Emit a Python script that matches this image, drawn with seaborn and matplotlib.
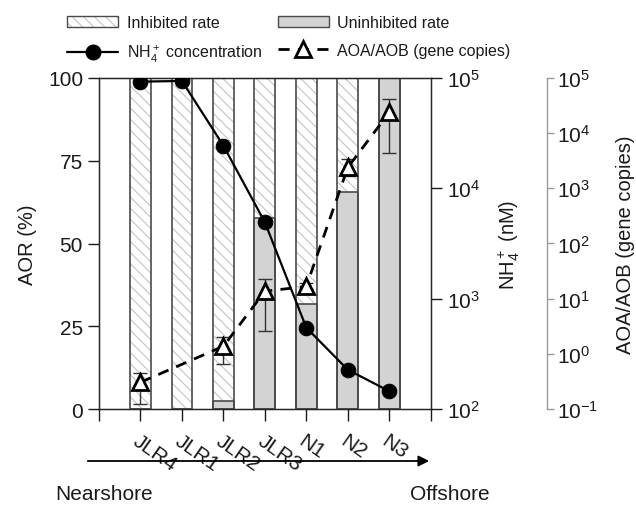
import numpy as np
import pandas as pd
import matplotlib
matplotlib.use("Agg")
import matplotlib.pyplot as plt
import matplotlib.transforms as mtransforms
import seaborn as sns
from matplotlib.patches import Patch, FancyArrowPatch
from matplotlib.lines import Line2D
from matplotlib.legend_handler import HandlerTuple
from matplotlib.ticker import NullLocator, FixedLocator

# Data
stations = ["JLR4", "JLR1", "JLR2", "JLR3", "N1", "N2", "N3"]
inhibited_rate = [100, 100, 100, 100, 100, 100, 100]      # AOR (%) top of stacked bar
uninhibited_rate = [0, 0, 2.3, 57.8, 31.7, 65.5, 100]     # AOR (%)
nh4_nM = [92700, 94000, 24400, 4930, 546, 227, 145]
aoa_aob = [0.305, np.nan, 1.37, 13.6, 16.7, 2390, 23700]
aoa_aob_low = [0.123, np.nan, 0.645, 2.56, 14.8, 1660, 4350]
aoa_aob_high = [0.444, np.nan, 1.99, 22.6, 19.0, 3380, 41300]

sns.set_style("ticks")
plt.rcParams["font.family"] = ["Liberation Sans", "DejaVu Sans"]
plt.rcParams["mathtext.fontset"] = "custom"
plt.rcParams["mathtext.rm"] = "Liberation Sans"
plt.rcParams["mathtext.it"] = "Liberation Sans:italic"
plt.rcParams["mathtext.bf"] = "Liberation Sans:bold"
plt.rcParams["hatch.linewidth"] = 0.8
plt.rcParams["text.color"] = "#1a1a1a"
plt.rcParams["axes.labelcolor"] = "#1a1a1a"
plt.rcParams["xtick.color"] = "#1a1a1a"
plt.rcParams["ytick.color"] = "#1a1a1a"

FS_TICK = 15
FS_LAB = 14.5
FS_LEG = 11.5
HATCH_C = "#c4c4c4"
EDGE_C = "#4a4a4a"
GRAY = "#d3d3d3"

pos = np.arange(1, len(stations) + 1)
df = pd.DataFrame({
    "pos": pos,
    "station": stations,
    "inhibited": inhibited_rate,
    "uninhibited": uninhibited_rate,
    "nh4": nh4_nM,
    "aoa": aoa_aob,
    "low": aoa_aob_low,
    "high": aoa_aob_high,
})
df_aoa = df.dropna(subset=["aoa"])

fig = plt.figure(figsize=(6.36, 5.10), dpi=100)
ax = fig.add_axes([99 / 636, 1 - 410 / 510, 331.7 / 636, 331 / 510])

# bars: hatched inhibited (full stack), gray uninhibited, dark outline
sns.barplot(data=df, x="pos", y="inhibited", native_scale=True, width=0.5,
            color="white", saturation=1, edgecolor=HATCH_C, linewidth=0,
            hatch="\\\\\\", ax=ax, zorder=1)
sns.barplot(data=df, x="pos", y="uninhibited", native_scale=True, width=0.5,
            color=GRAY, saturation=1, edgecolor=EDGE_C, linewidth=1.2,
            ax=ax, zorder=2)
sns.barplot(data=df, x="pos", y="inhibited", native_scale=True, width=0.5,
            fill=False, color=EDGE_C, linewidth=1.2, ax=ax, zorder=3)

ax.set_xlim(0, 8)
ax.set_ylim(0, 100)
ax.set_yticks([0, 25, 50, 75, 100])
ax.xaxis.set_major_locator(FixedLocator(np.arange(0, 9)))
ax.set_xticklabels([""] + stations + [""], rotation=-35, ha="left",
                   va="top", rotation_mode="anchor", fontsize=FS_TICK)
shift = mtransforms.ScaledTranslation(-13 / 100, 2 / 100, fig.dpi_scale_trans)
for lbl in ax.get_xticklabels():
    lbl.set_transform(lbl.get_transform() + shift)
ax.tick_params(axis="x", length=8.4, width=1, pad=7.4)
ax.tick_params(axis="y", length=8, width=1, labelsize=FS_TICK)
ax.set_xlabel("")
ax.set_ylabel("AOR (%)", fontsize=FS_LAB, labelpad=8)
for s in ax.spines.values():
    s.set_color("#1a1a1a")
    s.set_linewidth(1)

# NH4+ on log right axis
ax2 = ax.twinx()
ax2.set_yscale("log")
ax2.set_ylim(1e2, 1e5)
sns.lineplot(data=df, x="pos", y="nh4", ax=ax2, color="black", marker="o",
             markersize=10.5, markeredgecolor="black", linewidth=1.6,
             zorder=5)
ax2.yaxis.set_minor_locator(NullLocator())
ax2.tick_params(axis="y", length=8, width=1, labelsize=FS_TICK)
ax2.set_ylabel(r"NH$_4^+$ (nM)", fontsize=FS_LAB, labelpad=12)
ax2.set_xlabel("")

# AOA/AOB on offset third axis
ax3 = ax.twinx()
ax3.set_yscale("log")
ax3.set_ylim(1e-1, 1e5)
ax3.spines["right"].set_position(("axes", 1.35))
for k in ["left", "top", "bottom"]:
    ax3.spines[k].set_visible(False)
ax3.spines["right"].set_color("#9a9a9a")
ax3.spines["right"].set_linewidth(1)
ax3.errorbar(df_aoa["pos"], df_aoa["aoa"],
             yerr=[df_aoa["aoa"] - df_aoa["low"], df_aoa["high"] - df_aoa["aoa"]],
             fmt="none", ecolor="#333333", elinewidth=1, capsize=5, capthick=1,
             zorder=4)
sns.lineplot(data=df_aoa, x="pos", y="aoa", ax=ax3, color="black", marker="^",
             markersize=11, markerfacecolor="white", markeredgecolor="black",
             markeredgewidth=2, linewidth=2, linestyle=(0, (4, 3)), zorder=6)
ax3.yaxis.set_minor_locator(NullLocator())
ax3.tick_params(axis="y", length=5, width=1, pad=2, color="#9a9a9a",
                labelsize=FS_TICK)
ax3.set_ylabel("AOA/AOB (gene copies)", fontsize=FS_LAB, labelpad=13)
ax3.set_xlabel("")
ax.set_xlim(0, 8)

# legend
h_inh = (Patch(facecolor="white", edgecolor=HATCH_C, hatch="\\\\\\", lw=0),
         Patch(facecolor="none", edgecolor=EDGE_C, lw=1))
h_unh = Patch(facecolor=GRAY, edgecolor=EDGE_C, lw=1)
h_nh4 = Line2D([], [], color="black", marker="o", markersize=10.5, lw=1.6)
h_aoa = Line2D([], [], color="black", marker="^", markersize=11,
               markerfacecolor="white", markeredgewidth=2, lw=2,
               linestyle=(0, (4, 3)))
fig.legend(handles=[h_inh, h_nh4, h_unh, h_aoa],
           labels=["Inhibited rate", r"NH$_4^+$ concentration",
                   "Uninhibited rate", "AOA/AOB (gene copies)"],
           handler_map={tuple: HandlerTuple(ndivide=1, pad=0)},
           loc="upper left", bbox_to_anchor=(67 / 636, 1 - 16 / 510), ncol=2,
           frameon=False, fontsize=FS_LEG, handlelength=3.2, handletextpad=0.55,
           columnspacing=0.95, labelspacing=0.8, borderpad=0, borderaxespad=0)

# nearshore -> offshore arrow
fig.add_artist(FancyArrowPatch(
    (85 / 636, 1 - 462 / 510), (432 / 636, 1 - 462 / 510),
    transform=fig.transFigure, arrowstyle="-|>", mutation_scale=16,
    color="black", lw=1.3))
fig.text(55 / 636, 1 - 495 / 510, "Nearshore", fontsize=FS_TICK, ha="left", va="center")
fig.text(490 / 636, 1 - 495 / 510, "Offshore", fontsize=FS_TICK, ha="right", va="center")

fig.savefig("out.png", dpi=100)
